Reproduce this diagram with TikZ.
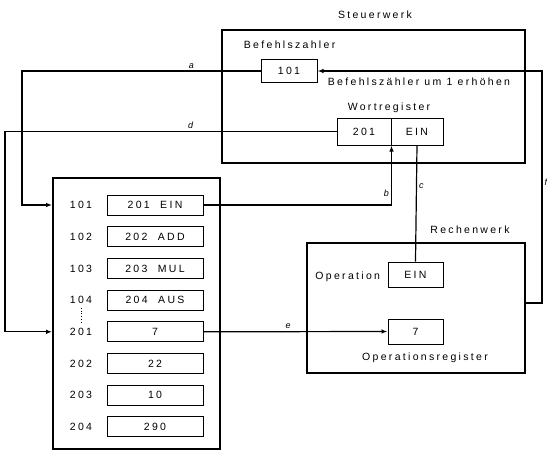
\documentclass[tikz,border=0pt]{standalone}
\usepackage{fontspec}
\newfontfamily\diafont[LetterSpace=22]{Liberation Sans}
\usetikzlibrary{positioning, arrows.meta, calc}

\begin{document}
\begin{tikzpicture}[x=1pt, y=-1pt, >={Latex[length=6pt,width=4.5pt]}, line width=1.2pt,
    font=\diafont\fontsize{10.5}{12}\selectfont]
  \tikzset{
    unit/.style={draw, line width=1.8pt, inner sep=0pt},
    reg/.style={draw, line width=1pt, inner sep=0pt},
    cell/.style={reg, minimum width=96pt, minimum height=20pt},
    lbl/.style={inner sep=2pt, font=\diafont\itshape\fontsize{9}{10}\selectfont},
  }
  \useasboundingbox (0,0) rectangle (547,451);

  % Steuerwerk
  \node[unit, minimum width=303pt, minimum height=133pt] (steuer) at (373.5,96.5) {};
  \node (steuer-t) at (375,15) {Steuerwerk};
  \node[anchor=west] (bz-t) at (240,45) {Befehlszahler};
  \node[reg, minimum width=56pt, minimum height=23pt] (bz) at (289,71) {101};
  \node[anchor=west] (bz-inc) at (324,82) {Befehlszähler um 1 erhöhen};
  \node (wr-t) at (389,108) {Wortregister};
  \node[reg, minimum width=54pt, minimum height=27pt] (wr-adr) at (364,131.5) {201};
  \node[reg, minimum width=52pt, minimum height=27pt] (wr-op) at (417,131.5) {EIN};

  % Speicher
  \node[unit, minimum width=167pt, minimum height=271pt] (mem) at (136.5,313.5) {};
  \foreach \adr/\val [count=\i] in {101/201\quad EIN, 102/202\quad ADD, 103/203\quad MUL,
      104/204\quad AUS, 201/7, 202/22, 203/10, 204/290} {
    \node (adr\i) at (81,{205+(\i-1)*31.7}) {\adr};
    \node[cell] (mem\i) at (155,{205+(\i-1)*31.7}) {\val};
  }
  \draw[dotted, line width=0.8pt] (adr4.south) -- (adr5.north);

  % Rechenwerk
  \node[unit, minimum width=218pt, minimum height=130pt] (rech) at (416,308) {};
  \node (rech-t) at (470,230) {Rechenwerk};
  \node[anchor=east] (op-t) at (384,277) {Operation};
  \node[reg, minimum width=55pt, minimum height=25pt] (op) at (415.5,274.5) {EIN};
  \node[reg, minimum width=55pt, minimum height=25pt] (opreg) at (415.5,331.5) {7};
  \node (opreg-t) at (425,358) {Operationsregister};

  % Verbindungen
  \coordinate (a-turn) at (22,71);
  \coordinate (d-turn) at (5,131.5);
  \draw[->] (bz.west) -- node[lbl, above, pos=0.29] {a} (a-turn) |- (mem.west |- mem1);
  \draw[->] (wr-adr.west) -- node[lbl, above, pos=0.44] {d} (d-turn) |- (mem.west |- mem5);
  \draw[->] (mem1.east) -| node[lbl, left, pos=0.6] {b} (wr-adr.south east);
  \draw (wr-op.south) -- node[lbl, right, pos=0.35] {c} (op.north);
  \draw[->] (mem5.east) -- node[lbl, above, pos=0.46] {e} (opreg.west);
  \draw[->] ($(rech.east)+(0,-5)$) -- ++(16,0) |- node[lbl, right, pos=0.26] {f} (bz.east);
\end{tikzpicture}
\end{document}
